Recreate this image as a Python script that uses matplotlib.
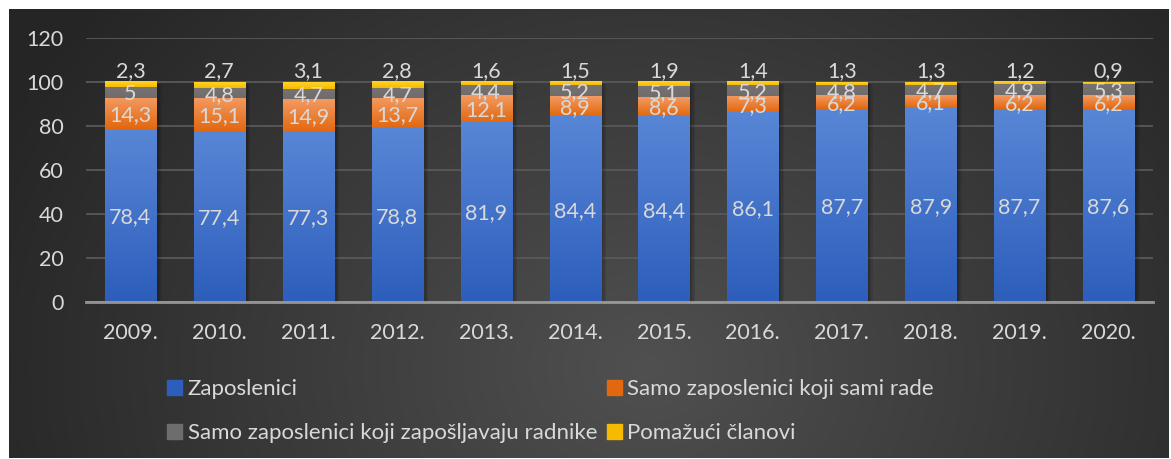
import numpy as np
import matplotlib.pyplot as plt
import matplotlib.patheffects as pe
from matplotlib.colors import LinearSegmentedColormap
from matplotlib.patches import Rectangle

plt.rcParams['font.family'] = ['Lato', 'DejaVu Sans']

years = ["2009.", "2010.", "2011.", "2012.", "2013.", "2014.",
         "2015.", "2016.", "2017.", "2018.", "2019.", "2020."]
zaposlenici = [78.4, 77.4, 77.3, 78.8, 81.9, 84.4, 84.4, 86.1, 87.7, 87.9, 87.7, 87.6]
sami_rade = [14.3, 15.1, 14.9, 13.7, 12.1, 8.9, 8.6, 7.3, 6.2, 6.1, 6.2, 6.2]
zaposljavaju = [5, 4.8, 4.7, 4.7, 4.4, 5.2, 5.1, 5.2, 4.8, 4.7, 4.9, 5.3]
pomazuci = [2.3, 2.7, 3.1, 2.8, 1.6, 1.5, 1.9, 1.4, 1.3, 1.3, 1.2, 0.9]

labels = ["Zaposlenici", "Samo zaposlenici koji sami rade",
          "Samo zaposlenici koji zapošljavaju radnike", "Pomažući članovi"]
series = [zaposlenici, sami_rade, zaposljavaju, pomazuci]
# (top colour, bottom colour) of each segment's fill
fills = [("#5886d6", "#2d5ebc"), ("#f39a62", "#e2680f"),
         ("#787373", "#716c6c"), ("#ffd42a", "#f6ba00")]
txt = "#d9d9d9"

W, H = 1171, 459
fig = plt.figure(figsize=(W / 100, H / 100), dpi=100)
fig.patch.set_facecolor("white")

# dark panel with a soft radial glow
bg = fig.add_axes([9 / W, 1 / H, 1160 / W, 449 / H])
bg.set_axis_off()
gx, gy = np.meshgrid(np.linspace(0, 1, 400), np.linspace(0, 1, 200))
d = np.clip(np.sqrt(((gx - 0.55) / 0.62) ** 2 + ((gy - 0.2) / 1.3) ** 2), 0, 1)
c0, c1 = np.array([0x50, 0x50, 0x50]) / 255, np.array([0x25, 0x25, 0x25]) / 255
img = c0 * (1 - d[..., None]) + c1 * d[..., None]
bg.imshow(img, origin="lower", extent=(0, 1, 0, 1), aspect="auto")

ax = fig.add_axes([86 / W, 157.3 / H, 1067 / W, 264 / H])
ax.set_facecolor("none")
x = np.arange(len(years))
bw = 0.574

# soft drop shadow: a few faint offset copies
shadow = [pe.SimplePatchShadow(offset=(o, -o / 2), alpha=0.09, shadow_rgbFace="black")
          for o in (1, 2, 3, 4)] + [pe.Normal()]

bottom = np.zeros(len(years))
for vals, lab, (top_c, bot_c) in zip(series, labels, fills):
    vals = np.array(vals)
    bars = ax.bar(x, vals, bw, bottom=bottom, color=bot_c, label=lab, zorder=2,
                  path_effects=shadow)
    cmap = LinearSegmentedColormap.from_list("g", [bot_c, top_c])
    for b in bars:
        x0, y0 = b.get_x(), b.get_y()
        ax.imshow(np.linspace(0, 1, 64).reshape(-1, 1), cmap=cmap, origin="lower",
                  extent=(x0, x0 + b.get_width(), y0, y0 + b.get_height()),
                  aspect="auto", interpolation="bilinear", zorder=3)
    for xi, b0, v in zip(x, bottom, vals):
        s = f"{v:g}".replace(".", ",")
        if lab == labels[-1]:
            ax.text(xi, b0 + v + 0.3, s, ha="center", va="bottom", color=txt,
                    fontsize=15.5, zorder=5)
        else:
            ax.text(xi, b0 + v / 2 - 0.8, s, ha="center", va="center", color=txt,
                    fontsize=15.5, zorder=5)
    bottom = bottom + vals

ax.set_xlim(-0.5, len(years) - 0.5)
ax.set_ylim(0, 120)
ax.set_yticks(range(0, 121, 20))
ax.set_xticks(x)
ax.set_xticklabels(years)
ax.yaxis.grid(True, color="#595959", lw=1.3, zorder=0)
ax.set_axisbelow(True)
for sp in ["top", "right", "left"]:
    ax.spines[sp].set_visible(False)
ax.spines["bottom"].set_color("#a6a6a6")
ax.spines["bottom"].set_linewidth(2)
ax.spines["bottom"].set_alpha(0.85)
ax.spines["bottom"].set_zorder(4)
ax.tick_params(axis="y", length=0, pad=16, labelsize=15.5, labelcolor=txt)
ax.tick_params(axis="x", length=0, pad=15, labelsize=15.5, labelcolor=txt)

# legend laid out row by row: column one holds series 1 and 3
hs = [Rectangle((0, 0), 1, 1, color=c[1]) for c in fills]
order = [0, 2, 1, 3]
fig.legend([hs[i] for i in order], [labels[i] for i in order], ncol=2,
           loc="upper left", bbox_to_anchor=(167 / W, 1 - 379 / H),
           frameon=False, fontsize=16, labelcolor=txt, borderpad=0,
           borderaxespad=0, handlelength=0.68, handleheight=0.66,
           handletextpad=0.25, columnspacing=0.42, labelspacing=1.1)

fig.savefig("out.png", dpi=100)
